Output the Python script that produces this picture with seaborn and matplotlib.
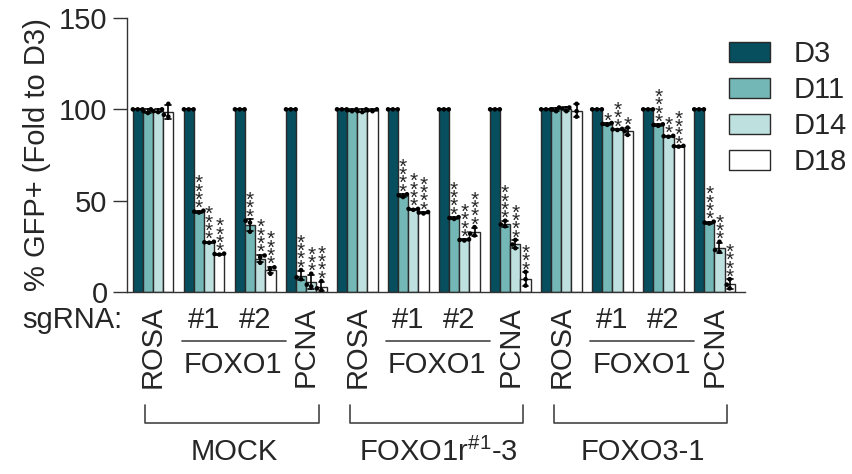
import numpy as np
import pandas as pd
import matplotlib
matplotlib.use("Agg")
import matplotlib.pyplot as plt
from matplotlib.patches import Patch
import seaborn as sns

# ---- data -------------------------------------------------------------
days = ["D3", "D11", "D14", "D18"]
sgrna = ["ROSA", "#1", "#2", "PCNA"] * 3
panels = ["MOCK", r"FOXO1r$^{\#1}$-3", "FOXO3-1"]

# three replicates per condition (12 conditions: 3 backgrounds x 4 sgRNAs)
d3_reps = [[100, 100, 100]] * 12
d11_reps = [
    [99, 100, 98], [44, 44.5, 43.5], [39, 38, 33], [7, 8, 12],
    [99, 100, 99.5], [53, 53.5, 52], [40.5, 41, 40], [36, 37, 39],
    [100, 101, 99], [92, 91.5, 92.5], [91, 91.5, 91.8], [37.5, 38, 38.5],
]
d14_reps = [
    [99, 100, 98.5], [27, 27.5, 27.2], [16, 19, 20], [3, 4, 10],
    [99, 100, 98.5], [45.5, 45, 45.5], [28.5, 28.8, 28.2], [24, 26, 28.5],
    [101, 99, 100.5], [89, 88.7, 89.3], [85, 85.5, 85.3], [22, 23, 27.5],
]
d18_reps = [
    [96, 97, 103], [20.5, 21, 20.8], [10, 12.5, 13.5], [1, 2, 6],
    [99.5, 100, 99], [43.5, 43.8, 43], [31, 32, 35.5], [3.5, 7, 11],
    [103, 99, 96], [86, 88, 90], [79.8, 80, 79.6], [2, 4, 7],
]

# significance (number of asterisks) vs. D3
d11_stars = [0, 4, 3, 4, 0, 4, 4, 4, 0, 1, 4, 4]
d14_stars = [0, 4, 4, 3, 0, 4, 4, 4, 0, 3, 2, 3]
d18_stars = [0, 4, 4, 4, 0, 4, 4, 3, 0, 1, 4, 4]

colors = ["#074E5E", "#73B7B6", "#BEE0DF", "#FFFFFF"]

# ---- long-form table ----------------------------------------------------
rows = []
for day, reps in zip(days, [d3_reps, d11_reps, d14_reps, d18_reps]):
    for cond, vals in enumerate(reps):
        for v in vals:
            rows.append({"cond": cond, "day": day, "value": v})
df = pd.DataFrame(rows)

# ---- style ------------------------------------------------------------------
sns.set_style("ticks")
plt.rcParams["font.family"] = ["Liberation Sans", "DejaVu Sans"]
plt.rcParams["mathtext.default"] = "regular"

fig = plt.figure(figsize=(8.52, 4.74), dpi=100)
ax = fig.add_axes([127 / 852, 1 - 292 / 474, (745 - 127) / 852, (292 - 18) / 474])

sns.barplot(
    data=df, x="cond", y="value", hue="day", hue_order=days,
    order=list(range(12)), palette=colors, errorbar="sd", capsize=0.45,
    err_kws={"color": "black", "linewidth": 1.2},
    edgecolor="#2a2a2a", linewidth=1.0, width=0.8, saturation=1, ax=ax,
    legend=False,
)
sns.swarmplot(
    data=df, x="cond", y="value", hue="day", hue_order=days,
    order=list(range(12)), dodge=True, palette=["black"] * 4, size=3.3,
    legend=False, ax=ax,
)

ax.set_ylim(0, 150)
ax.set_xlim(-0.51, 11.6)
ax.set_yticks([0, 50, 100, 150])
ax.tick_params(axis="y", labelsize=21, length=10, width=1, pad=4, color="#333")
ax.set_ylabel("% GFP+ (Fold to D3)", fontsize=21, labelpad=6)
ax.set_xlabel("")
ax.set_xticks(range(12))
ax.set_xticklabels(sgrna, fontsize=21)
ax.tick_params(axis="x", length=0, pad=10)
for lab in ax.get_xticklabels():
    if lab.get_text() in ("ROSA", "PCNA"):
        lab.set_rotation(90)
sns.despine(ax=ax)
for s in ("left", "bottom"):
    ax.spines[s].set_color("#333")
    ax.spines[s].set_linewidth(1.0)

# ---- significance asterisks (one per level, stacked above each bar) ---------
offsets = [-0.3, -0.1, 0.1, 0.3]
for j, (reps, stars) in enumerate(zip([d11_reps, d14_reps, d18_reps],
                                      [d11_stars, d14_stars, d18_stars]), start=1):
    for cond, (vals, n) in enumerate(zip(reps, stars)):
        top = max(np.mean(vals) + np.std(vals, ddof=1), max(vals))
        for k in range(n):
            ax.annotate("*", xy=(cond + offsets[j], top),
                        xytext=(0, -2.5 + 6 * k), textcoords="offset points",
                        ha="center", va="baseline", fontsize=15,
                        annotation_clip=False)

# ---- group annotations below the axis --------------------------------------
trans = ax.get_xaxis_transform()


def yfrac(py):
    return (292 - py) / 274


for g, name in enumerate(panels):
    base = 4 * g
    ax.plot([base + 0.57, base + 2.61], [yfrac(341), yfrac(341)], color="#444",
            lw=1.2, transform=trans, clip_on=False)
    ax.text(base + 1.57, yfrac(365), "FOXO1", fontsize=21, ha="center",
            va="center", transform=trans)
    x0, x1 = base - 0.15, base + 3.25
    ax.plot([x0, x0, x1, x1], [yfrac(405), yfrac(423), yfrac(423), yfrac(405)],
            color="#444", lw=1.2, transform=trans, clip_on=False)
    ax.text((x0 + x1) / 2 + 0.04, yfrac(452), name, fontsize=21, ha="center",
            va="center", transform=trans)

fig.text(122 / 852, 1 - 320 / 474, "sgRNA:", fontsize=21, ha="right", va="center")

# ---- legend ------------------------------------------------------------------
handles = [Patch(facecolor=c, edgecolor="#2a2a2a", linewidth=1.0) for c in colors]
fig.legend(handles, days, loc="upper left", bbox_to_anchor=(729 / 852, 1 - 40 / 474),
           bbox_transform=fig.transFigure, frameon=False, fontsize=21,
           handlelength=1.4, handleheight=0.67, handletextpad=0.83,
           labelspacing=0.28, borderpad=0, borderaxespad=0)

fig.savefig("out.png", dpi=100)
